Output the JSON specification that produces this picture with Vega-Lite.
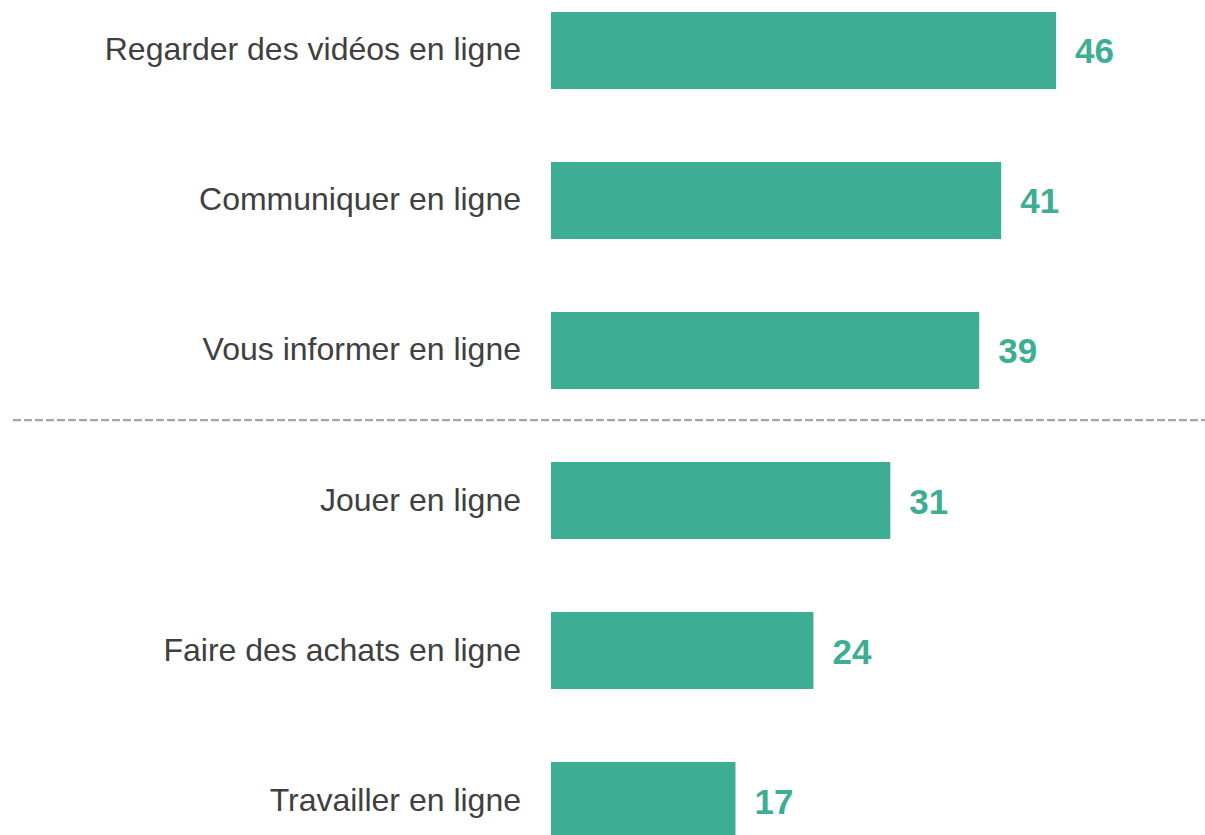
{
  "$schema": "https://vega.github.io/schema/vega-lite/v6.json",
  "width": 1205,
  "height": 851,
  "autosize": {"type": "none"},
  "padding": 0,
  "background": "white",
  "config": {"view": {"stroke": null}},
  "data": {
    "values": [
      {"activite": "Regarder des vidéos en ligne", "valeur": 46},
      {"activite": "Communiquer en ligne", "valeur": 41},
      {"activite": "Vous informer en ligne", "valeur": 39},
      {"activite": "Jouer en ligne", "valeur": 30.9},
      {"activite": "Faire des achats en ligne", "valeur": 23.9},
      {"activite": "Travailler en ligne", "valeur": 16.8}
    ]
  },
  "encoding": {
    "y": {
      "field": "activite",
      "type": "nominal",
      "sort": null,
      "axis": null,
      "scale": {"paddingInner": 0.4867, "paddingOuter": 0.08}
    }
  },
  "layer": [
    {
      "mark": {"type": "bar", "color": "#3DAE94"},
      "encoding": {
        "x": {
          "field": "valeur",
          "type": "quantitative",
          "axis": null,
          "scale": {"domain": [-50.18, 59.56], "nice": false, "zero": false}
        }
      }
    },
    {
      "mark": {"type": "text", "align": "left", "baseline": "middle", "dx": 19, "dy": 2, "font": "Liberation Sans", "fontSize": 35, "fontWeight": "bold", "color": "#3DAE94"},
      "encoding": {
        "x": {"field": "valeur", "type": "quantitative"},
        "text": {"field": "valeur", "type": "quantitative", "format": ".0f"}
      }
    },
    {
      "mark": {"type": "text", "align": "right", "baseline": "middle", "dx": -30, "font": "Liberation Sans", "fontSize": 32, "color": "#404040"},
      "encoding": {
        "x": {"datum": 0, "type": "quantitative"},
        "text": {"field": "activite", "type": "nominal"}
      }
    },
    {
      "data": {"values": [{}]},
      "mark": {"type": "rule", "color": "#A6A6A6", "strokeWidth": 2.2, "strokeDash": [8, 3]},
      "encoding": {
        "x": {"datum": -49, "type": "quantitative"},
        "x2": {"datum": 59.56},
        "y": {"datum": "Jouer en ligne", "bandPosition": -0.545}
      }
    }
  ]
}
